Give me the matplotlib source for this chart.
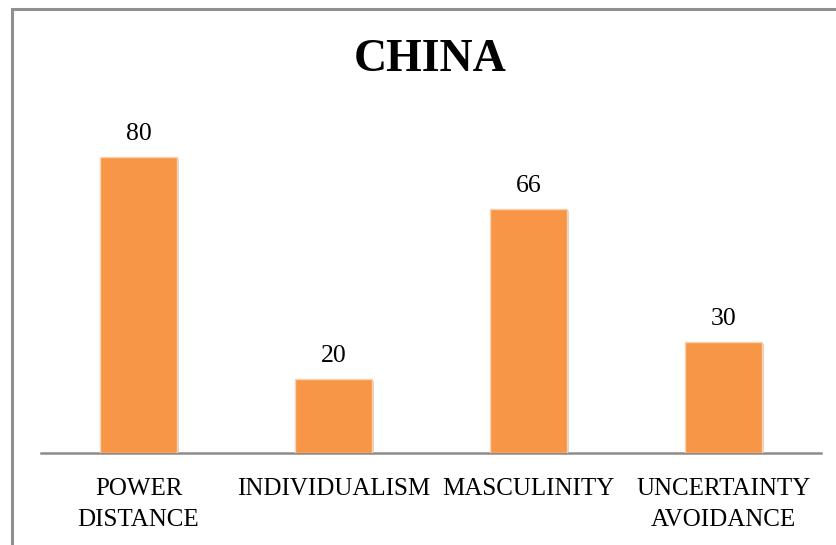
import matplotlib
matplotlib.use("Agg")
import matplotlib.pyplot as plt
from matplotlib.patches import Rectangle
import matplotlib.patheffects as pe

categories = ["POWER\nDISTANCE", "INDIVIDUALISM", "MASCULINITY", "UNCERTAINTY\nAVOIDANCE"]
values = [80, 20, 66, 30]
title = "CHINA"

W, H = 837, 545
fig = plt.figure(figsize=(W / 100, H / 100), dpi=100)
plt.rcParams['font.family'] = ['Liberation Serif', 'DejaVu Serif']

# outer border (extends beyond right/bottom edges)
fig.patches.append(Rectangle((12 / W, -0.1), 1.2, (H - 9) / H + 0.1, transform=fig.transFigure,
                             fill=False, edgecolor='#8f8f8f', linewidth=2.2))

ax_left, ax_right = 41, 821
ax_bottom, ax_top = 453, 120
ax = fig.add_axes([ax_left / W, (H - ax_bottom) / H, (ax_right - ax_left) / W, (ax_bottom - ax_top) / H])
ax.set_xlim(-0.5, len(values) - 0.5)
ax.set_ylim(0, 90)

x = range(len(values))
bars = ax.bar(x, values, width=0.395, color='#F79646', edgecolor='#FAD2B0', linewidth=1.0, zorder=3)
for b in bars:
    b.set_path_effects([pe.SimplePatchShadow(offset=(1.5, -1.5), shadow_rgbFace='#bbbbbb', alpha=0.6), pe.Normal()])

for xi, v in zip(x, values):
    ax.text(xi, v + 3.2, str(v), ha='center', va='bottom', fontsize=18.5)

for s in ['top', 'right', 'left']:
    ax.spines[s].set_visible(False)
ax.spines['bottom'].set_color('#8c8c8c')
ax.spines['bottom'].set_linewidth(1.8)
ax.set_yticks([])
ax.set_xticks(list(x))
ax.set_xticklabels(categories, fontsize=18, linespacing=1.55)
ax.tick_params(axis='x', length=0, pad=18)

fig.text(430 / W, 1 - 60 / H, title, ha='center', va='center', fontsize=33, fontweight='bold')

fig.savefig("out.png", dpi=100)
